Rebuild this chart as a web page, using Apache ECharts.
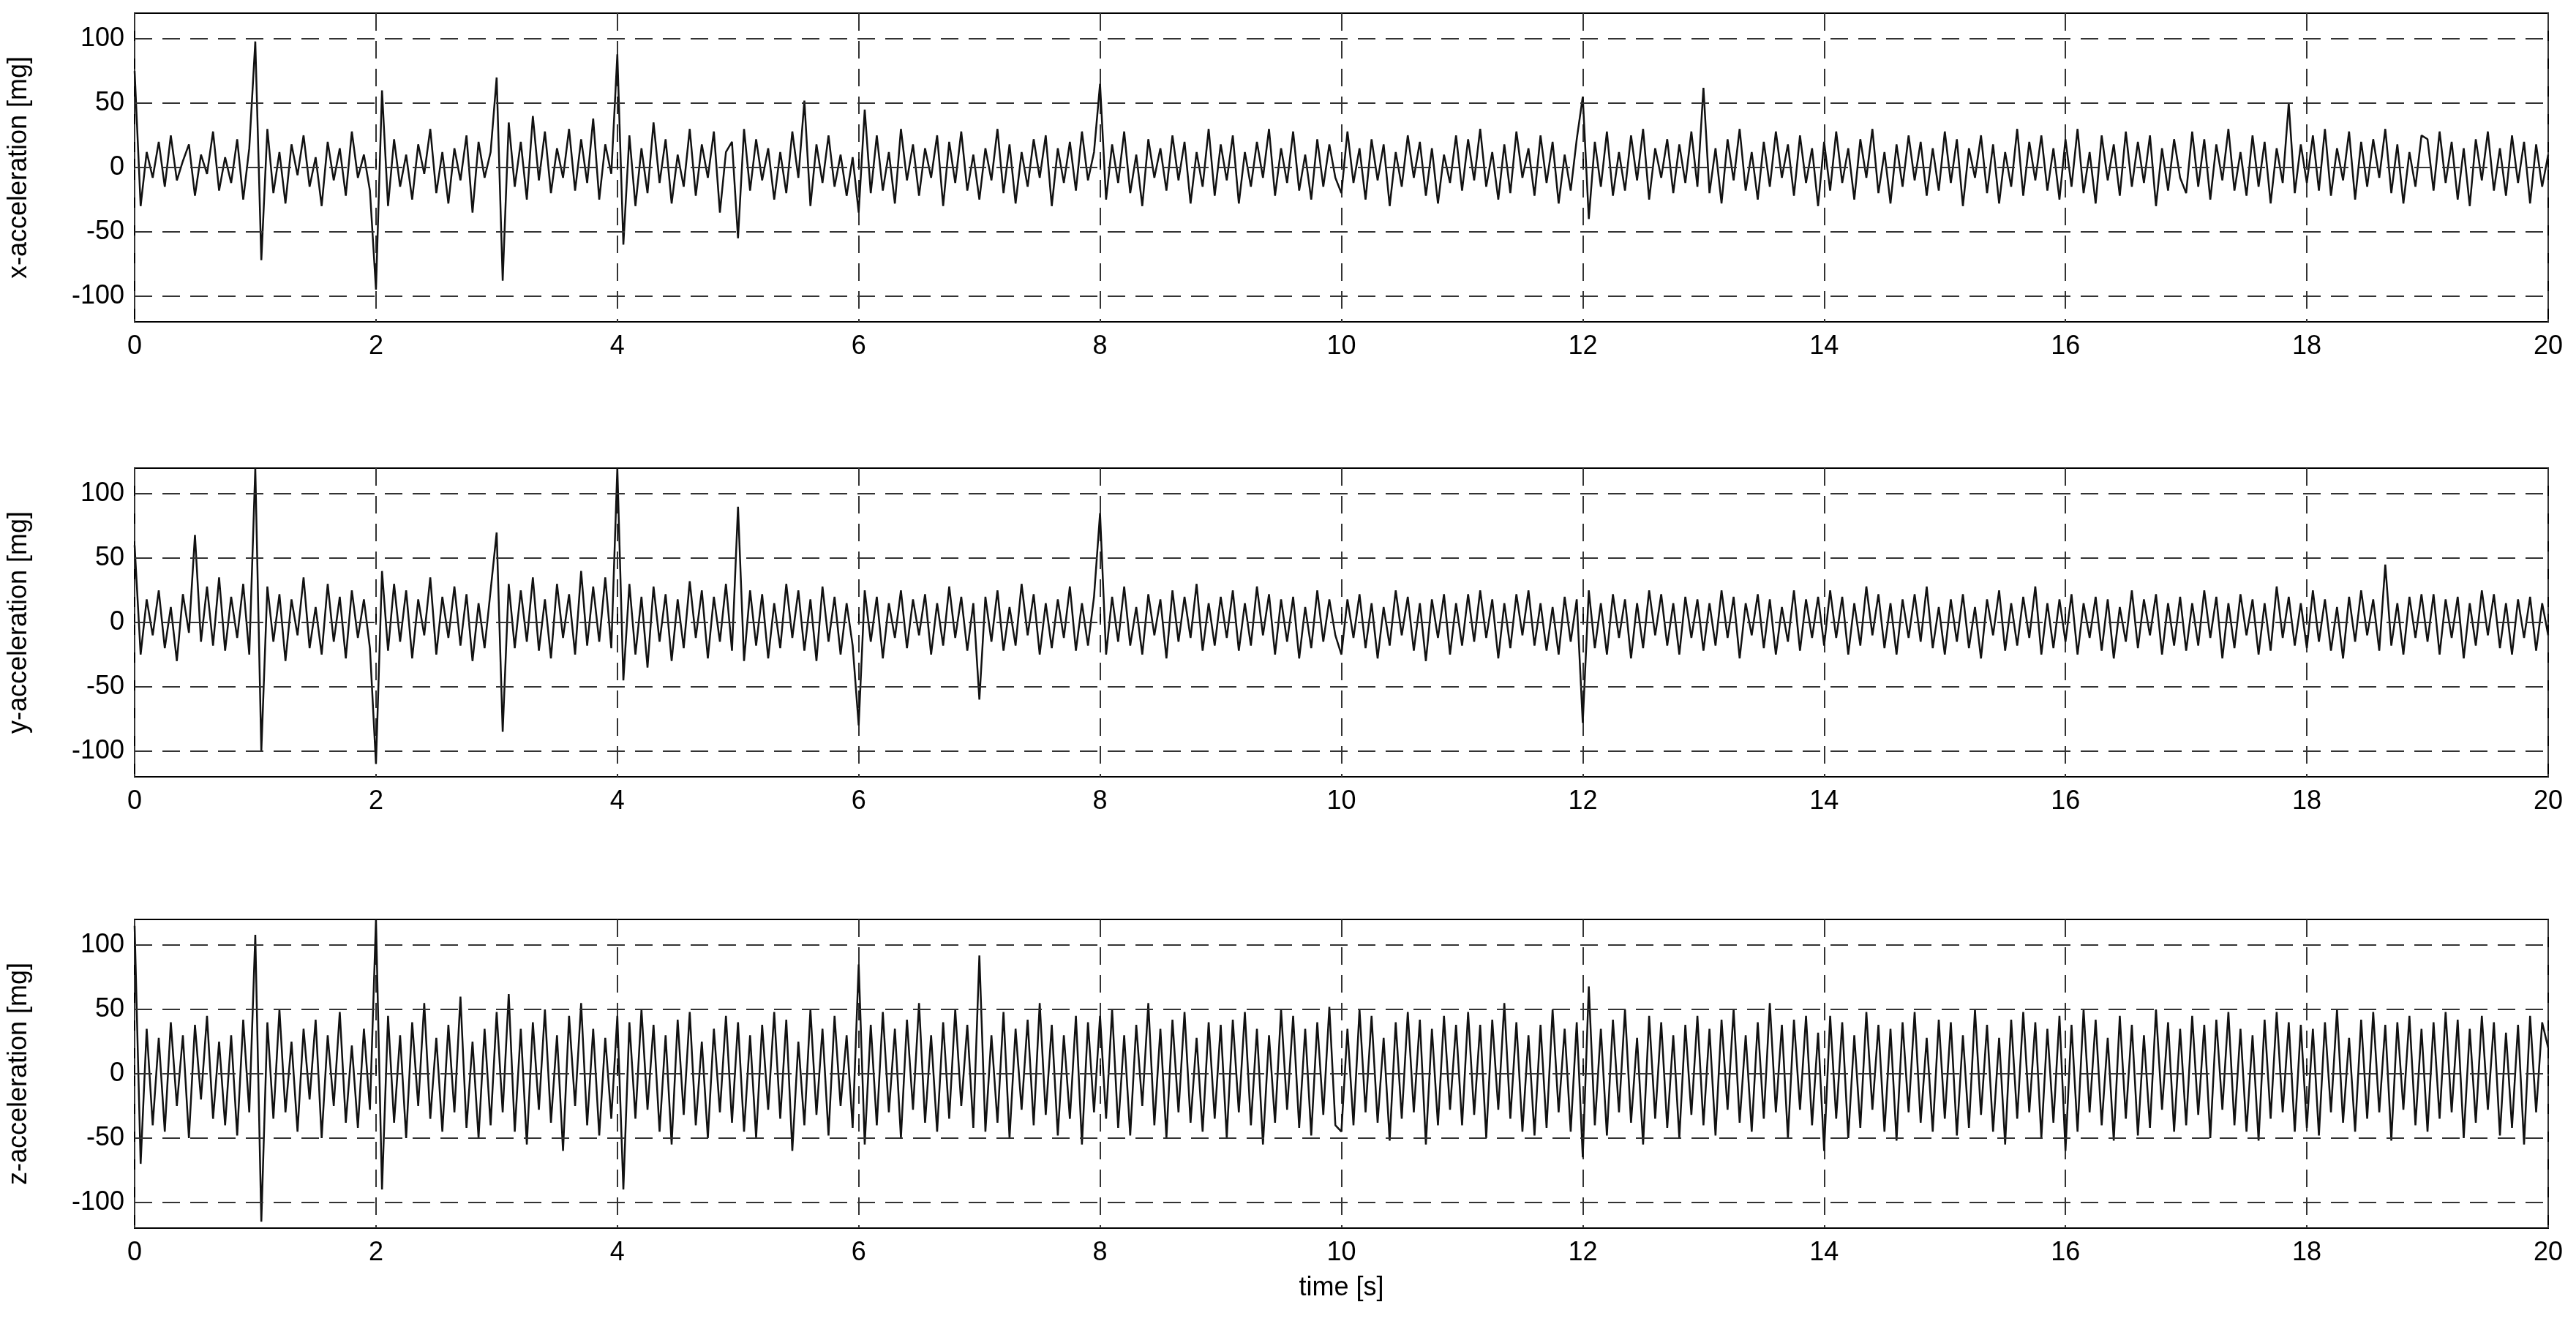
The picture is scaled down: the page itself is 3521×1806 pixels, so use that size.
<!DOCTYPE html>
<html>
<head>
    <meta charset="UTF-8">
    <title>acceleration</title>
    <script src="https://cdn.jsdelivr.net/npm/echarts@6/dist/echarts.min.js"></script>
    <style>
        html, body { margin: 0; padding: 0; background: #ffffff; }
        #main { width: 3521px; height: 1806px; }
    </style>
</head>
<body>
<div id="main"></div>
<script type="text/javascript">
    // sample step 0.05 s, values in mg
    var dt = 0.05;
    var accX = [
        75, -30, 12, -8, 20, -15, 25, -10, 5, 18, -22, 10, -5, 28, -18, 8, -12, 22, -25, 15,
        98, -72, 30, -20, 12, -28, 18, -6, 25, -15, 8, -30, 20, -10, 15, -22, 28, -8, 10, -18,
        -95, 60, -30, 22, -15, 10, -25, 18, -5, 30, -20, 12, -28, 15, -10, 25, -35, 20, -8, 12,
        70, -88, 35, -15, 20, -25, 40, -10, 28, -20, 15, -8, 30, -18, 22, -12, 38, -25, 18, -5,
        88, -60, 25, -30, 15, -20, 35, -12, 22, -28, 10, -15, 30, -22, 18, -8, 28, -35, 12, 20,
        -55, 30, -18, 22, -10, 15, -25, 12, -20, 28, -8, 52, -30, 18, -12, 25, -15, 10, -22, 8,
        -35, 45, -20, 25, -18, 12, -28, 30, -10, 18, -22, 15, -8, 25, -30, 20, -12, 28, -18, 10,
        -25, 15, -10, 30, -20, 18, -28, 12, -15, 22, -8, 25, -30, 15, -12, 20, -18, 28, -10, 12,
        65, -25, 18, -12, 28, -20, 10, -30, 22, -8, 15, -18, 25, -10, 20, -28, 12, -15, 30, -22,
        18, -10, 25, -28, 12, -15, 20, -8, 30, -22, 15, -12, 28, -18, 10, -25, 22, -15, 18, -8,
        -20, 28, -12, 15, -25, 22, -10, 18, -30, 12, -15, 25, -8, 20, -22, 15, -28, 10, -12, 25,
        -18, 22, -10, 30, -15, 12, -25, 18, -20, 28, -8, 15, -22, 25, -12, 20, -28, 10, -18, 22,
        55, -40, 20, -15, 28, -22, 12, -18, 25, -10, 30, -25, 15, -8, 22, -20, 18, -12, 28, -15,
        62, -20, 15, -28, 22, -10, 30, -18, 12, -25, 20, -15, 28, -8, 18, -22, 25, -12, 15, -30,
        20, -18, 28, -12, 15, -25, 22, -8, 30, -20, 12, -28, 18, -15, 25, -10, 20, -22, 15, -18,
        28, -12, 22, -30, 15, -8, 25, -20, 18, -28, 12, -15, 30, -22, 20, -10, 25, -18, 15, -25,
        22, -15, 30, -20, 12, -28, 25, -10, 18, -22, 28, -15, 20, -12, 25, -30, 15, -18, 22, -8,
        -20, 28, -15, 22, -25, 18, -10, 30, -18, 12, -22, 25, -15, 20, -28, 15, -12, 50, -20, 18,
        -12, 25, -18, 30, -22, 15, -10, 28, -25, 20, -15, 22, -8, 30, -20, 18, -28, 12, -15, 25,
        22, -18, 28, -12, 20, -25, 15, -30, 22, -10, 28, -18, 15, -22, 25, -12, 20, -28, 18, -15,
        10
    ];
    var accY = [
        60, -25, 18, -10, 25, -20, 12, -30, 22, -8, 68, -15, 28, -18, 35, -22, 20, -12, 30, -25,
        120, -100, 28, -15, 22, -30, 18, -10, 35, -20, 12, -25, 30, -15, 20, -28, 25, -12, 18, -20,
        -110, 40, -22, 30, -15, 25, -28, 18, -10, 35, -25, 20, -12, 28, -18, 22, -30, 15, -20, 25,
        70, -85, 30, -20, 25, -15, 35, -22, 18, -28, 30, -12, 22, -25, 40, -18, 28, -15, 35, -20,
        120, -45, 30, -25, 20, -35, 28, -15, 22, -30, 18, -20, 32, -12, 25, -28, 20, -15, 30, -22,
        90, -30, 25, -18, 22, -28, 15, -20, 30, -12, 25, -22, 18, -30, 28, -15, 20, -25, 15, -18,
        -80, 25, -15, 20, -28, 15, -12, 25, -20, 18, -10, 22, -25, 15, -18, 28, -12, 20, -22, 15,
        -60, 20, -15, 25, -22, 12, -18, 30, -10, 22, -25, 15, -20, 18, -12, 28, -22, 15, -18, 20,
        85, -25, 20, -15, 28, -18, 12, -25, 22, -10, 18, -28, 25, -15, 20, -12, 30, -22, 15, -18,
        20, -12, 25, -22, 15, -18, 28, -10, 22, -25, 18, -15, 20, -28, 12, -20, 25, -15, 18, -10,
        -25, 18, -12, 22, -20, 15, -28, 12, -18, 25, -10, 20, -22, 15, -30, 18, -12, 22, -25, 15,
        -18, 22, -15, 25, -12, 18, -28, 15, -20, 22, -10, 25, -18, 15, -22, 12, -25, 20, -15, 18,
        -78, 25, -20, 15, -25, 22, -12, 18, -28, 15, -20, 25, -10, 22, -18, 15, -25, 20, -12, 18,
        -22, 15, -18, 25, -12, 20, -28, 15, -10, 22, -20, 18, -25, 12, -15, 25, -22, 18, -12, 20,
        -18, 25, -12, 20, -25, 15, -18, 28, -10, 22, -20, 15, -25, 18, -12, 22, -15, 28, -20, 12,
        -25, 18, -15, 22, -20, 12, -28, 18, -10, 25, -22, 15, -18, 20, -12, 28, -25, 15, -20, 18,
        -15, 22, -25, 15, -12, 20, -22, 18, -28, 12, -15, 25, -20, 18, -10, 22, -25, 15, -18, 20,
        -22, 15, -18, 25, -12, 20, -28, 15, -20, 22, -10, 18, -25, 15, -22, 28, -12, 20, -18, 15,
        -20, 25, -15, 18, -22, 12, -28, 20, -15, 25, -10, 18, -22, 45, -18, 15, -25, 20, -12, 22,
        -15, 22, -25, 18, -12, 20, -28, 15, -18, 25, -10, 22, -20, 15, -25, 18, -12, 20, -22, 15,
        -10
    ];
    var accZ = [
        115, -70, 35, -40, 28, -45, 40, -25, 30, -50, 38, -20, 45, -35, 25, -40, 30, -48, 42, -30,
        108, -115, 40, -35, 50, -30, 25, -45, 35, -20, 42, -50, 30, -25, 48, -38, 22, -42, 35, -28,
        120, -90, 45, -38, 30, -50, 40, -25, 55, -35, 28, -45, 38, -30, 60, -42, 25, -50, 35, -40,
        48, -30, 62, -45, 35, -55, 40, -28, 50, -38, 30, -60, 45, -25, 55, -40, 35, -48, 28, -35,
        45, -90, 40, -35, 50, -28, 38, -45, 30, -55, 42, -32, 48, -40, 25, -50, 35, -30, 45, -38,
        40, -45, 30, -50, 38, -28, 48, -35, 42, -60, 25, -40, 50, -32, 35, -48, 45, -25, 30, -42,
        85, -55, 38, -40, 48, -30, 35, -50, 42, -28, 55, -38, 30, -45, 40, -35, 50, -25, 38, -42,
        92, -45, 30, -38, 48, -50, 35, -28, 42, -40, 55, -32, 38, -48, 30, -35, 45, -55, 40, -30,
        45, -35, 50, -42, 30, -48, 38, -25, 55, -40, 35, -50, 42, -30, 48, -38, 28, -45, 40, -35,
        38, -50, 42, -30, 48, -40, 35, -55, 30, -38, 50, -28, 45, -42, 35, -48, 40, -32, 52, -40,
        -45, 35, -40, 50, -30, 45, -38, 28, -52, 40, -35, 48, -30, 42, -55, 35, -40, 45, -28, 38,
        -40, 48, -32, 38, -50, 42, -28, 55, -35, 40, -45, 30, -48, 38, -42, 50, -30, 35, -45, 40,
        -65, 68, -40, 35, -48, 42, -30, 50, -38, 28, -55, 45, -35, 40, -42, 30, -50, 38, -32, 45,
        -40, 35, -48, 42, -28, 50, -38, 30, -45, 40, -35, 55, -30, 38, -50, 42, -28, 45, -40, 32,
        -60, 45, -35, 40, -50, 30, -42, 48, -28, 38, -45, 35, -52, 40, -30, 48, -38, 28, -45, 42,
        -35, 40, -48, 30, -42, 50, -32, 38, -45, 28, -55, 42, -35, 48, -30, 40, -50, 35, -38, 45,
        -60, 38, -45, 50, -30, 42, -40, 28, -52, 45, -35, 38, -48, 30, -42, 50, -28, 40, -45, 35,
        -40, 45, -32, 38, -50, 42, -28, 48, -40, 35, -45, 30, -52, 42, -35, 48, -30, 40, -45, 38,
        -42, 35, -48, 40, -30, 50, -38, 28, -45, 42, -35, 48, -30, 38, -52, 40, -28, 45, -40, 35,
        -45, 40, -35, 48, -30, 42, -50, 35, -38, 45, -28, 40, -48, 32, -42, 38, -55, 45, -30, 40,
        20
    ];
    var yTicks = [-100, -50, 0, 50, 100];
    var names = ['x-acceleration [mg]', 'y-acceleration [mg]', 'z-acceleration [mg]'];
    var signals = [accX, accY, accZ];

    var font = 'Liberation Sans, Arial, sans-serif';
    var tops = [18, 640, 1257];
    var plotH = 422;

    function pairs(arr) {
        return arr.map(function (v, i) { return [+(i * dt).toFixed(2), v]; });
    }

    var grids = [], xAxes = [], yAxes = [], series = [];
    for (var k = 0; k < 3; k++) {
        grids.push({left: 182, right: 38, top: tops[k], height: plotH, show: true,
            borderColor: '#000', borderWidth: 2, backgroundColor: '#fff'});
        xAxes.push({
            type: 'value', gridIndex: k, min: 0, max: 20, interval: 2,
            name: k === 2 ? 'time [s]' : '', nameLocation: 'middle', nameGap: 64,
            nameTextStyle: {fontFamily: font, fontSize: 36, color: '#000'},
            axisLine: {show: false},
            axisTick: {inside: true, length: 12, lineStyle: {color: '#000', width: 2}},
            axisLabel: {fontFamily: font, fontSize: 36, color: '#000', margin: 16},
            splitLine: {show: true, lineStyle: {color: '#333', type: [24, 14], width: 2}}
        });
        yAxes.push({
            type: 'value', gridIndex: k, min: -120, max: 120, interval: 10,
            name: names[k], nameLocation: 'middle', nameGap: 140,
            nameTextStyle: {fontFamily: font, fontSize: 36, color: '#000'},
            axisLine: {show: false},
            axisTick: {inside: true, length: 12, customValues: yTicks, lineStyle: {color: '#000', width: 2}},
            axisLabel: {fontFamily: font, fontSize: 36, color: '#000', margin: 14, customValues: yTicks},
            splitLine: {show: false}
        });
        series.push({
            type: 'line', xAxisIndex: k, yAxisIndex: k, data: pairs(signals[k]),
            showSymbol: false, animation: false,
            lineStyle: {color: '#111', width: 2.5},
            markLine: {
                silent: true, symbol: 'none', label: {show: false},
                lineStyle: {color: '#333', type: [24, 14], width: 2},
                data: yTicks.map(function (v) { return {yAxis: v}; })
            }
        });
    }

    var myChart = echarts.init(document.getElementById('main'));
    myChart.setOption({
        animation: false,
        grid: grids,
        xAxis: xAxes,
        yAxis: yAxes,
        series: series
    });
</script>
</body>
</html>
